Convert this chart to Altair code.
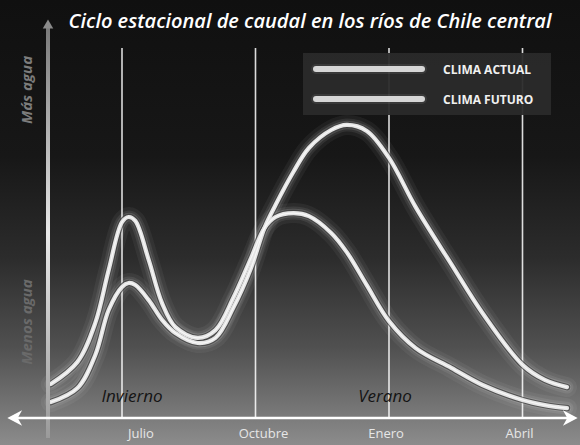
import altair as alt
import pandas as pd

# Seasonal river-flow cycle, central Chile. x = months after July (0 = Julio),
# y = relative flow index (0 = the time axis).
mes = [-1.6, -1.0, -0.6, -0.3, 0.0, 0.15, 0.3, 0.6, 0.9, 1.2, 1.7, 2.1, 2.5, 2.9,
       3.2, 3.45, 3.85, 4.2, 4.7, 5.05, 5.5, 6.0, 6.6, 7.4, 8.1, 9.0, 9.5, 10.0]
caudal_actual = [5.3, 10.0, 21.0, 36.0, 43.7, 45.0, 44.3, 39.3, 32.7, 28.3, 25.0, 26.7, 36.7, 50.0,
                 63.3, 71.0, 82.0, 90.0, 96.0, 97.7, 95.7, 86.7, 70.3, 51.3, 35.0, 17.7, 12.7, 10.3]
caudal_futuro = [11.3, 18.7, 31.7, 49.3, 65.3, 67.0, 65.7, 52.7, 38.3, 30.3, 26.7, 29.3, 40.0, 53.3,
                 63.3, 67.0, 68.3, 67.3, 61.7, 55.3, 44.3, 32.3, 23.3, 16.7, 11.0, 6.0, 4.3, 3.3]

meses_marca = [0, 3, 6, 9]
meses_nombre = ["Julio", "Octubre", "Enero", "Abril"]
series = ["CLIMA ACTUAL", "CLIMA FUTURO"]

W, H = 580, 445
X_DOM = [-122 / 44.5, (W - 122) / 44.5]
Y_DOM = [-27 / 3, 418 / 3]

curvas = pd.DataFrame(
    [{"mes": m, "caudal": v, "serie": series[0]} for m, v in zip(mes, caudal_actual)]
    + [{"mes": m, "caudal": v, "serie": series[1]} for m, v in zip(mes, caudal_futuro)]
)
marcas = pd.DataFrame({"mes": meses_marca, "nombre": meses_nombre})

xs = alt.X("mes:Q", scale=alt.Scale(domain=X_DOM, nice=False, zero=False), axis=None)
ys = alt.Y("caudal:Q", scale=alt.Scale(domain=Y_DOM, nice=False, zero=False), axis=None)

one = pd.DataFrame({"k": [0]})

# background
fondo = alt.Chart(one).mark_rect(
    color=alt.Gradient(
        gradient="linear", x1=0, x2=0, y1=0, y2=1,
        stops=[
            alt.GradientStop(offset=0.0, color="#101010"),
            alt.GradientStop(offset=0.35, color="#171717"),
            alt.GradientStop(offset=0.58, color="#2c2c2c"),
            alt.GradientStop(offset=0.78, color="#505050"),
            alt.GradientStop(offset=0.92, color="#767676"),
            alt.GradientStop(offset=1.0, color="#8c8c8c"),
        ],
    )
).encode(x=alt.value(0), x2=alt.value(W), y=alt.value(0), y2=alt.value(H))

# month guide lines
guias = alt.Chart(marcas).mark_rule(color="white", strokeWidth=1.6, opacity=0.85).encode(
    x=xs, y=alt.value(48), y2=alt.value(418)
)

# glowing curves
base = alt.Chart(curvas).encode(x=xs, y=ys, detail="serie:N")
capas = []
for w, col, op in [(20, "white", 0.05), (13, "white", 0.08), (8.5, "white", 0.14),
                   (6.5, "#3a3a3a", 0.7), (4.2, "#e4e4e4", 1.0), (1.2, "#ffffff", 0.7)]:
    capas.append(
        base.mark_line(interpolate="catmull-rom", strokeWidth=w, color=col, opacity=op,
                       strokeCap="round", strokeJoin="round")
    )

# legend box
caja = alt.Chart(one).mark_rect(color="#2a2a2a", opacity=0.95).encode(
    x=alt.value(303), x2=alt.value(551), y=alt.value(53), y2=alt.value(115)
)
ley_lineas = []
for yy in [69, 99]:
    ley_lineas.append(alt.Chart(one).mark_rule(color="white", strokeWidth=10, opacity=0.08,
                                               strokeCap="round").encode(
        x=alt.value(316), x2=alt.value(422), y=alt.value(yy)))
    ley_lineas.append(alt.Chart(one).mark_rule(color="#d6d6d6", strokeWidth=6,
                                               strokeCap="round").encode(
        x=alt.value(316), x2=alt.value(422), y=alt.value(yy)))
ley_texto = [
    alt.Chart(one).mark_text(text=t, align="left", baseline="middle", font="Open Sans",
                             fontSize=12, fontWeight="bold", color="#f0f0f0").encode(
        x=alt.value(443), y=alt.value(yy))
    for t, yy in zip(series, [70, 100])
]

# vertical (flow) arrow
eje_y = alt.Chart(one).mark_rect(
    color=alt.Gradient(
        gradient="linear", x1=0, x2=0, y1=0, y2=1,
        stops=[
            alt.GradientStop(offset=0.0, color="#7a7a7a"),
            alt.GradientStop(offset=0.5, color="#e8e8e8"),
            alt.GradientStop(offset=1.0, color="#9a9a9a"),
        ],
    )
).encode(x=alt.value(46), x2=alt.value(50), y=alt.value(28), y2=alt.value(438))
punta_y = alt.Chart(one).mark_point(shape="triangle-up", filled=True, size=110,
                                    color="#8a8a8a", opacity=1).encode(
    x=alt.value(48), y=alt.value(24))

# horizontal (time) arrow
eje_x = alt.Chart(one).mark_rule(color="white", strokeWidth=2.5).encode(
    x=alt.value(14), x2=alt.value(568), y=alt.value(418))
flecha = "M -1 0 L 0.7 -0.9 L 0.2 0 L 0.7 0.9 Z"
flecha_d = "M 1 0 L -0.7 -0.9 L -0.2 0 L -0.7 0.9 Z"
punta_izq = alt.Chart(one).mark_point(shape=flecha, filled=True, size=300, color="white",
                                      opacity=1).encode(x=alt.value(16), y=alt.value(418))
punta_der = alt.Chart(one).mark_point(shape=flecha_d, filled=True, size=300, color="white",
                                      opacity=1).encode(x=alt.value(569), y=alt.value(418))

# month labels under the time axis
desplaz = {"Julio": 19, "Octubre": 8, "Enero": -3, "Abril": -3}
etiquetas = [
    alt.Chart(marcas[marcas.nombre == n]).mark_text(
        font="Open Sans", fontSize=13, color="#e6e6e6", baseline="middle", dx=d
    ).encode(x=xs, y=alt.value(434), text="nombre:N")
    for n, d in desplaz.items()
]

# text
titulo = alt.Chart(one).mark_text(
    text="Ciclo estacional de caudal en los ríos de Chile central", font="Open Sans",
    fontSize=20, fontWeight=600, fontStyle="italic", color="white", align="center",
    baseline="middle"
).encode(x=alt.value(310), y=alt.value(22))
mas = alt.Chart(one).mark_text(text="Más agua", font="Open Sans", fontSize=15,
                               fontStyle="italic", fontWeight="bold", color="#7c7c7c",
                               angle=270, baseline="middle").encode(
    x=alt.value(27), y=alt.value(90))
menos = alt.Chart(one).mark_text(text="Menos agua", font="Open Sans", fontSize=15,
                                 fontStyle="italic", fontWeight="bold", color="#6a6a6a",
                                 angle=270, baseline="middle").encode(
    x=alt.value(27), y=alt.value(322))
invierno = alt.Chart(one).mark_text(text="Invierno", font="Open Sans", fontSize=17,
                                    fontStyle="italic", color="#141414").encode(
    x=alt.value(132), y=alt.value(397))
verano = alt.Chart(one).mark_text(text="Verano", font="Open Sans", fontSize=17,
                                  fontStyle="italic", color="#141414").encode(
    x=alt.value(385), y=alt.value(397))

chart = alt.layer(
    fondo, guias, *capas, caja, *ley_lineas, *ley_texto, eje_y, punta_y, eje_x,
    punta_izq, punta_der, *etiquetas, titulo, mas, menos, invierno, verano
).properties(width=W, height=H, padding=0, autosize=alt.AutoSizeParams(type="none")
).configure_view(stroke=None).configure(background="#101010")

chart.save("out.html", embed_options={"renderer": "svg", "actions": False})
